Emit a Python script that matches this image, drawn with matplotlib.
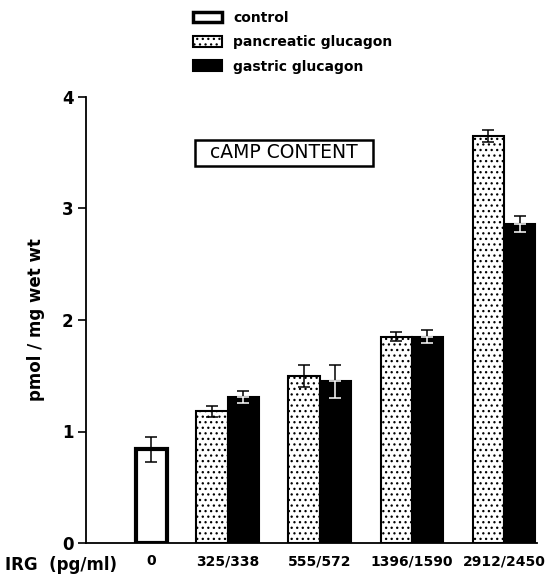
import matplotlib
matplotlib.use("Agg")
import matplotlib.pyplot as plt
import matplotlib.patches as mpatches
import numpy as np

plt.rcParams['font.family'] = ['DejaVu Sans']
plt.rcParams['hatch.linewidth'] = 0.9

# ---- data ----
tick_labels = ["0", "325/338", "555/572", "1396/1590", "2912/2450"]
control_value = 0.84
control_err = 0.11
pancreatic = [1.18, 1.50, 1.85, 3.65]
pancreatic_err = [0.05, 0.10, 0.04, 0.05]
gastric = [1.31, 1.45, 1.85, 2.86]
gastric_err = [0.05, 0.15, 0.06, 0.07]
series_labels = ["control", "pancreatic glucagon", "gastric glucagon"]
yticks = [0, 1, 2, 3, 4]

# ---- layout ----
W, H = 547, 578
fig = plt.figure(figsize=(W / 100, H / 100), dpi=100)
ax = fig.add_axes([86 / W, 35 / H, 451 / W, 446 / H])

centers = np.array([0.71, 1.54, 2.54, 3.54, 4.54])
bw = 0.34

# control
ax.bar(centers[0], control_value, width=bw, facecolor="white",
       edgecolor="black", linewidth=3, zorder=2)
ax.errorbar(centers[0], control_value, yerr=control_err, fmt="none",
            ecolor="black", elinewidth=1.1, capsize=4, capthick=1.1, zorder=3)

gx = centers[1:]
ax.bar(gx - bw / 2, pancreatic, width=bw, facecolor="white", hatch="...",
       edgecolor="black", linewidth=1.5, zorder=2)
ax.bar(gx + bw / 2, gastric, width=bw, facecolor="black",
       edgecolor="black", linewidth=1.5, zorder=2)

ax.errorbar(gx - bw / 2, pancreatic, yerr=pancreatic_err, fmt="none",
            ecolor="black", elinewidth=1.1, capsize=4, capthick=1.1, zorder=3)
ge = np.array(gastric_err)
ax.errorbar(gx + bw / 2, gastric, yerr=[np.zeros_like(ge), ge], fmt="none",
            ecolor="black", elinewidth=1.1, capsize=4, capthick=1.1, zorder=3)
ax.errorbar(gx + bw / 2, gastric, yerr=[ge, np.zeros_like(ge)], fmt="none",
            ecolor="white", elinewidth=1.1, capsize=4, capthick=1.1, zorder=3)

ax.set_xlim(0, 4.9)
ax.set_ylim(0, 4)
ax.set_yticks(yticks)
ax.set_yticklabels([str(t) for t in yticks], fontsize=12, fontweight="bold")
ax.set_xticks(centers)
ax.set_xticklabels(tick_labels, fontsize=10, fontweight="bold")
ax.tick_params(axis="x", length=0, pad=8)
ax.tick_params(axis="y", length=6, width=1.2, direction="out", pad=3)
for s in ["top", "right"]:
    ax.spines[s].set_visible(False)
ax.spines["left"].set_linewidth(1.3)
ax.spines["bottom"].set_linewidth(1.3)

ax.set_ylabel("pmol / mg wet wt", fontsize=12, fontweight="bold", labelpad=12)
fig.text(5 / W, 1 - 565 / H, "IRG  (pg/ml)", fontsize=12, fontweight="bold",
         ha="left", va="center")

# title box
bx0, bx1, by0, by1 = 195, 373, 140, 166
ax.add_patch(mpatches.Rectangle(((bx0 - 86) / 451, 1 - (by1 - 97) / 446),
                                (bx1 - bx0) / 451, (by1 - by0) / 446,
                                transform=ax.transAxes, facecolor="white",
                                edgecolor="black", linewidth=1.8, zorder=4))
ax.text(((bx0 + bx1) / 2 - 86) / 451, 1 - ((by0 + by1) / 2 - 97) / 446,
        "cAMP CONTENT", transform=ax.transAxes, fontsize=13.5, ha="center",
        va="center", zorder=5)

handles = [
    mpatches.Patch(facecolor="white", edgecolor="black", linewidth=2.5),
    mpatches.Patch(facecolor="white", edgecolor="black", hatch="...", linewidth=1.5),
    mpatches.Patch(facecolor="black", edgecolor="black", linewidth=1.5),
]
fig.legend(handles, series_labels, loc="upper left",
           bbox_to_anchor=(183 / W, 1 - 1 / H), frameon=False,
           prop=dict(size=10, weight="bold"), handlelength=2.1,
           handleheight=0.8, handletextpad=0.8, labelspacing=0.75,
           borderpad=0.2)

fig.savefig("out.png", dpi=100)
